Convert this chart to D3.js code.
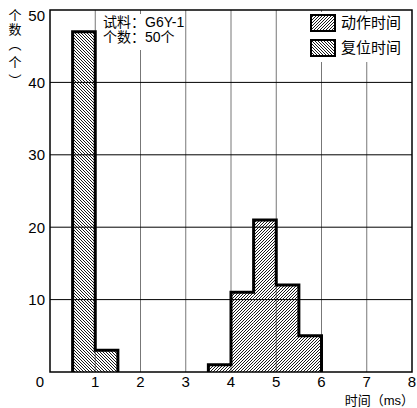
<!DOCTYPE html>
<html>
<head>
<meta charset="utf-8">
<script src="https://cdn.jsdelivr.net/npm/d3@7"></script>
<style>
  body { margin: 0; background: #fff; }
  svg { display: block; }
  text { font-family: "Liberation Sans", Arial, "Noto Sans CJK SC", sans-serif; fill: #000; }
  .cjk { font-family: "Liberation Sans", "Noto Sans CJK SC", sans-serif; }
</style>
</head>
<body>
<svg width="417" height="408"></svg>
<script>
// bins are 0.5 ms wide, value = left edge of the bin
const resetBins = [0.5, 1.0];
const resetCounts = [47, 3];
const operateBins = [3.5, 4.0, 4.5, 5.0, 5.5];
const operateCounts = [1, 11, 21, 12, 5];
const binWidth = 0.5;

const xTicks = [0, 1, 2, 3, 4, 5, 6, 7, 8];
const yTicks = [10, 20, 30, 40, 50];
const legendNames = ['动作时间', '复位时间'];
const noteLines = ['试料：G6Y-1', '个数：50个'];
const yTitleChars = ['个', '数', '︵', '个', '︶'];

const svg = d3.select('svg');

const x = d3.scaleLinear().domain([0, 8]).range([50, 412]);
const y = d3.scaleLinear().domain([0, 50]).range([372, 10]);

// hatch patterns, about 3px apart
const defs = svg.append('defs');
defs.append('pattern')
    .attr('id', 'fwd')
    .attr('patternUnits', 'userSpaceOnUse')
    .attr('width', 3).attr('height', 3)
    .append('path')
    .attr('d', 'M-1,1 l2,-2 M0,3 l3,-3 M2,4 l2,-2')
    .attr('stroke', '#000').attr('stroke-width', 0.9);
defs.append('pattern')
    .attr('id', 'back')
    .attr('patternUnits', 'userSpaceOnUse')
    .attr('width', 3).attr('height', 3)
    .append('path')
    .attr('d', 'M-1,2 l2,2 M0,0 l3,3 M2,-1 l2,2')
    .attr('stroke', '#000').attr('stroke-width', 0.9);

// grid
svg.append('g')
    .selectAll('line')
    .data(xTicks.slice(1, -1))
    .enter()
    .append('line')
    .attr('x1', d => x(d)).attr('x2', d => x(d))
    .attr('y1', y(50)).attr('y2', y(0))
    .attr('stroke', '#777').attr('stroke-width', 1);

svg.append('g')
    .selectAll('line')
    .data(yTicks.slice(0, -1))
    .enter()
    .append('line')
    .attr('x1', x(0)).attr('x2', x(8))
    .attr('y1', d => y(d)).attr('y2', d => y(d))
    .attr('stroke', '#000').attr('stroke-width', 1);

// bars
function drawGroup(bins, counts, fill) {
    svg.append('g')
        .selectAll('rect')
        .data(bins)
        .enter()
        .append('rect')
        .attr('x', d => x(d))
        .attr('width', x(binWidth) - x(0))
        .attr('y', (d, i) => y(counts[i]))
        .attr('height', (d, i) => y(0) - y(counts[i]))
        .attr('fill', fill);

    // outline of the whole step shape
    let p = d3.path();
    p.moveTo(x(bins[0]), y(0));
    bins.forEach((b, i) => {
        p.lineTo(x(b), y(counts[i]));
        p.lineTo(x(b + binWidth), y(counts[i]));
    });
    p.lineTo(x(bins[bins.length - 1] + binWidth), y(0));
    svg.append('path')
        .attr('d', p.toString())
        .attr('fill', 'none')
        .attr('stroke', '#000')
        .attr('stroke-width', 3)
        .attr('stroke-linejoin', 'miter');
}
drawGroup(resetBins, resetCounts, 'url(#back)');
drawGroup(operateBins, operateCounts, 'url(#fwd)');

// frame
svg.append('rect')
    .attr('x', x(0)).attr('y', y(50))
    .attr('width', x(8) - x(0)).attr('height', y(0) - y(50))
    .attr('fill', 'none').attr('stroke', '#000').attr('stroke-width', 1.5);

// tick labels
svg.append('g')
    .selectAll('text')
    .data(xTicks)
    .enter()
    .append('text')
    .attr('x', d => d === 0 ? 40 : x(d))
    .attr('y', 387)
    .attr('text-anchor', 'middle')
    .attr('font-size', 15)
    .text(d => d);

svg.append('g')
    .selectAll('text')
    .data(yTicks)
    .enter()
    .append('text')
    .attr('x', 45)
    .attr('y', d => Math.max(y(d), 16))
    .attr('dy', '0.36em')
    .attr('text-anchor', 'end')
    .attr('font-size', 15)
    .text(d => d);

// axis titles
svg.append('text')
    .attr('class', 'cjk')
    .attr('x', 414).attr('y', 405)
    .attr('text-anchor', 'end')
    .attr('font-size', 13)
    .text('时间（ms）');

// vertical parens sit at the bottom/top of their em box, so shift them
svg.append('g')
    .selectAll('text')
    .data(yTitleChars)
    .enter()
    .append('text')
    .attr('class', 'cjk')
    .attr('x', 15)
    .attr('y', (d, i) => [15, 29, 44, 62, 80][i])
    .attr('dy', '0.36em')
    .attr('text-anchor', 'middle')
    .attr('font-size', 13)
    .text(d => d);

// note box
svg.append('rect')
    .attr('x', 98).attr('y', 14).attr('width', 82).attr('height', 36)
    .attr('fill', '#fff');
svg.append('g')
    .selectAll('text')
    .data(noteLines)
    .enter()
    .append('text')
    .attr('class', 'cjk')
    .attr('x', 103)
    .attr('y', (d, i) => 27 + i * 15)
    .attr('font-size', 14)
    .text(d => d);

// legend
const lg = svg.append('g');
lg.append('rect')
    .attr('x', 306).attr('y', 12).attr('width', 104).attr('height', 50)
    .attr('fill', '#fff');
const items = lg.selectAll('g')
    .data(legendNames)
    .enter()
    .append('g')
    .attr('transform', (d, i) => `translate(311, ${15 + i * 25})`);
items.append('rect')
    .attr('width', 24).attr('height', 16)
    .attr('fill', (d, i) => i === 0 ? 'url(#fwd)' : 'url(#back)')
    .attr('stroke', '#000').attr('stroke-width', 2);
items.append('text')
    .attr('class', 'cjk')
    .attr('x', 30).attr('y', 8)
    .attr('dy', '0.35em')
    .attr('font-size', 15)
    .text(d => d);
</script>
</body>
</html>
